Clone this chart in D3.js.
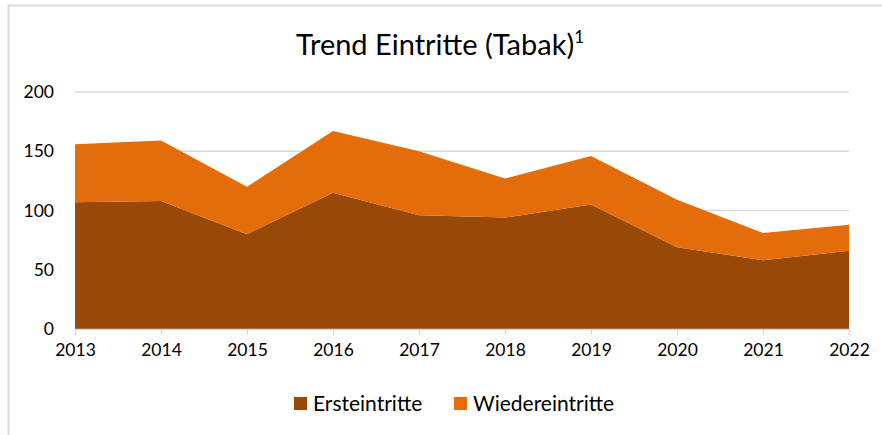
<!DOCTYPE html>
<html>
<head>
<meta charset="utf-8">
<script src="https://cdn.jsdelivr.net/npm/d3@7"></script>
<style>
  body { margin: 0; background: #fff; }
  svg { display: block; font-family: Lato, "Open Sans", sans-serif; }
</style>
</head>
<body>
<svg id="chart" width="882" height="435"></svg>
<script>
const years = ["2013", "2014", "2015", "2016", "2017", "2018", "2019", "2020", "2021", "2022"];
const erst = [107, 108, 80, 115, 96, 94, 105, 69, 58, 66];
const wieder = [49, 51, 40, 52, 54, 33, 41, 40, 23, 22];
const yTicks = [0, 50, 100, 150, 200];
const seriesNames = ["Ersteintritte", "Wiedereintritte"];
const colors = ["#984807", "#E46C0A"];

const svg = d3.select("#chart");

// chart frame
svg.append("rect")
  .attr("x", 8.5).attr("y", 5.5)
  .attr("width", 900).attr("height", 450)
  .attr("fill", "none")
  .attr("stroke", "#d9d9d9")
  .attr("stroke-width", 2);

const x = d3.scalePoint().domain(years).range([75, 849]);
const y = d3.scaleLinear().domain([0, 200]).range([329, 92]);

// gridlines
svg.append("g")
  .selectAll("line")
  .data(yTicks.slice(1))
  .join("line")
  .attr("x1", 75).attr("x2", 849)
  .attr("y1", d => y(d)).attr("y2", d => y(d))
  .attr("stroke", "#d9d9d9")
  .attr("stroke-width", 1.3);

const rows = years.map((yr, i) => ({ year: yr, Ersteintritte: erst[i], Wiedereintritte: wieder[i] }));
const stack = d3.stack().keys(seriesNames)(rows);

const area = d3.area()
  .x(d => x(d.data.year))
  .y0(d => y(d[0]))
  .y1(d => y(d[1]));

svg.append("g")
  .selectAll("path")
  .data(stack)
  .join("path")
  .attr("d", area)
  .attr("fill", (d, i) => colors[i]);

// x axis
const xAxis = svg.append("g")
  .attr("transform", "translate(0,329)")
  .call(d3.axisBottom(x).tickSize(6).tickPadding(9));
xAxis.select(".domain").attr("stroke", "#d9d9d9").attr("stroke-width", 1.3);
xAxis.selectAll(".tick line").attr("stroke", "#d9d9d9").attr("stroke-width", 1.3);
xAxis.selectAll(".tick text").attr("font-size", 17.5).attr("fill", "#000")
  .attr("font-family", "Lato, 'Open Sans', sans-serif");

// y axis labels
const yAxis = svg.append("g")
  .attr("transform", "translate(67,0)")
  .call(d3.axisLeft(y).tickValues(yTicks).tickSize(0).tickPadding(13));
yAxis.select(".domain").remove();
yAxis.selectAll(".tick text").attr("font-size", 17.5).attr("fill", "#000")
  .attr("font-family", "Lato, 'Open Sans', sans-serif");

// title
const title = svg.append("text")
  .attr("x", 440).attr("y", 55)
  .attr("text-anchor", "middle")
  .attr("font-size", 29)
  .attr("fill", "#000");
title.append("tspan").text("Trend Eintritte (Tabak)");
title.append("tspan").attr("font-size", 17).attr("dy", -12).text("1");

// legend
const legendX = [294, 454];
const legend = svg.append("g")
  .selectAll("g")
  .data(seriesNames)
  .join("g")
  .attr("transform", (d, i) => `translate(${legendX[i]},397)`);
legend.append("rect")
  .attr("width", 13).attr("height", 13)
  .attr("fill", (d, i) => colors[i]);
legend.append("text")
  .attr("x", 19).attr("y", 14)
  .attr("font-size", 21)
  .attr("fill", "#000")
  .text(d => d);
</script>
</body>
</html>
